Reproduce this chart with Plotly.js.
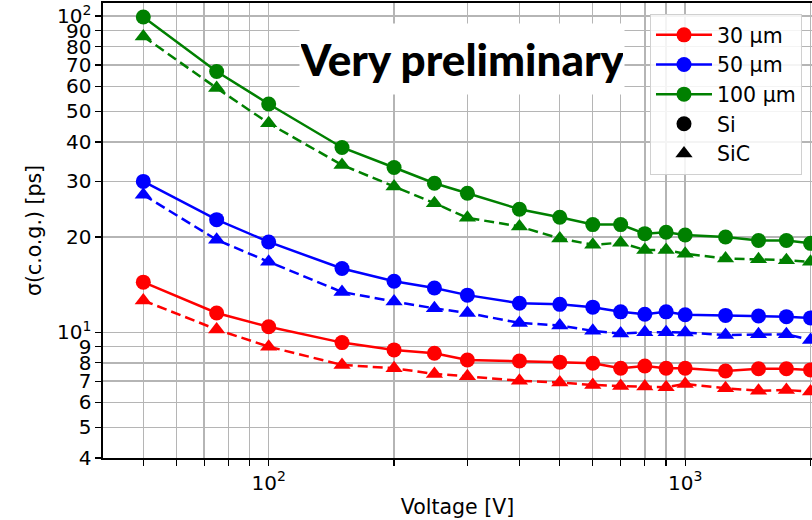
<!DOCTYPE html>
<html>
<head>
<meta charset="utf-8">
<script src="https://cdn.plot.ly/plotly-3.0.1.min.js"></script>
<style>html,body{margin:0;padding:0;background:#fff;}#chart{width:812px;height:520px;}</style>
</head>
<body>
<div id="chart"></div>
<script>
const voltage = [50, 75, 100, 150, 200, 250, 300, 400, 500, 600, 700, 800, 900, 1000, 1250, 1500, 1750, 2000];

const si30  = [14.4, 11.5, 10.4, 9.27, 8.79, 8.58, 8.17, 8.11, 8.04, 7.98, 7.69, 7.82, 7.69, 7.69, 7.54, 7.66, 7.66, 7.6];
const sic30 = [12.6, 10.2, 9.0, 7.88, 7.69, 7.38, 7.25, 7.02, 6.93, 6.81, 6.76, 6.73, 6.70, 6.86, 6.65, 6.53, 6.56, 6.49];
const si50  = [30.0, 22.7, 19.3, 15.9, 14.5, 13.8, 13.1, 12.35, 12.25, 12.0, 11.6, 11.4, 11.6, 11.35, 11.3, 11.25, 11.2, 11.1];
const sic50 = [27.2, 19.6, 16.7, 13.4, 12.5, 11.9, 11.5, 10.7, 10.5, 10.1, 9.9, 10.0, 10.0, 9.97, 9.8, 9.85, 9.85, 9.45];
const si100  = [99.3, 66.8, 52.7, 38.4, 33.2, 29.6, 27.5, 24.5, 23.1, 21.9, 21.9, 20.5, 20.7, 20.3, 20.0, 19.5, 19.5, 19.1];
const sic100 = [86.2, 59.2, 45.8, 33.8, 28.9, 25.6, 23.0, 21.6, 19.8, 18.9, 19.2, 18.2, 18.2, 17.7, 17.1, 17.0, 16.9, 16.7];

const thicknessLabels = ["30 µm", "50 µm", "100 µm"];
const materialLabels = ["Si", "SiC"];
const colors = ["#ff0000", "#0000ff", "#008000"];

const yTickVals = [4, 5, 6, 7, 8, 9, 10, 20, 30, 40, 50, 60, 70, 80, 90, 100];
const yTickText = ["4", "5", "6", "7", "8", "9", "10<sup>1</sup>", "20", "30", "40", "50", "60", "70", "80", "90", "10<sup>2</sup>"];
const xTickVals = [50, 60, 70, 80, 90, 100, 200, 300, 400, 500, 600, 700, 800, 900, 1000, 2000];
const xTickText = ["", "", "", "", "", "10<sup>2</sup>", "", "", "", "", "", "", "", "", "10<sup>3</sup>", ""];

const siSeries = [si30, si50, si100];
const sicSeries = [sic30, sic50, sic100];

const traces = [];
for (let i = 0; i < 3; i++) {
  traces.push({
    x: voltage, y: sicSeries[i], type: "scatter", mode: "lines+markers",
    line: {color: colors[i], width: 2.5, dash: "10px,5px"},
    marker: {color: colors[i], symbol: "triangle-up", size: 15},
    showlegend: false, hoverinfo: "skip"
  });
  traces.push({
    x: voltage, y: siSeries[i], type: "scatter", mode: "lines+markers",
    line: {color: colors[i], width: 2.5},
    marker: {color: colors[i], symbol: "circle", size: 15},
    showlegend: false, hoverinfo: "skip"
  });
}
// legend entries
for (let i = 0; i < 3; i++) {
  traces.push({
    x: [null], y: [null], type: "scatter", mode: "lines+markers",
    name: thicknessLabels[i], legendgroup: "g" + i,
    line: {color: colors[i], width: 2.5},
    marker: {color: colors[i], symbol: "circle", size: 15}
  });
}
traces.push({x: [null], y: [null], type: "scatter", mode: "markers", name: materialLabels[0], legendgroup: "g3",
  marker: {color: "#000", symbol: "circle", size: 15}});
traces.push({x: [null], y: [null], type: "scatter", mode: "markers", name: materialLabels[1], legendgroup: "g4",
  marker: {color: "#000", symbol: "triangle-up", size: 15}});

const font = {family: "DejaVu Sans", size: 20, color: "#000"};
const titleFont = {family: "DejaVu Sans", size: 20.5, color: "#000"};

const layout = {
  width: 812, height: 520,
  margin: {l: 103, r: 0, t: 3, b: 62},
  paper_bgcolor: "#fff", plot_bgcolor: "#fff",
  font: font,
  xaxis: {
    type: "log", range: [1.6022, 3.3045],
    tickvals: xTickVals, ticktext: xTickText,
    ticks: "outside", ticklen: 6, tickwidth: 1.3, tickcolor: "#000",
    showline: true, linecolor: "#000", linewidth: 1.6, mirror: true,
    showgrid: true, gridcolor: "#b5b5b5", gridwidth: 1.4,
    zeroline: false, tickfont: font,
    title: {text: "Voltage [V]", font: titleFont, standoff: 6}
  },
  yaxis: {
    type: "log", range: [0.60206, 2.04139],
    tickvals: yTickVals, ticktext: yTickText,
    ticks: "outside", ticklen: 6, tickwidth: 1.3, tickcolor: "#000",
    showline: true, linecolor: "#000", linewidth: 1.6, mirror: false,
    showgrid: true, gridcolor: "#b5b5b5", gridwidth: 1.4,
    zeroline: false, tickfont: font,
    title: {text: "σ(c.o.g.) [ps]", font: titleFont, standoff: 10}
  },
  legend: {
    x: 0.7715, y: 0.9758, xanchor: "left", yanchor: "top",
    bgcolor: "rgba(255,255,255,0.85)", bordercolor: "#d0d0d0", borderwidth: 1,
    font: {family: "DejaVu Sans", size: 20.5, color: "#000"},
    tracegroupgap: 0, itemwidth: 56, traceorder: "grouped"
  },
  annotations: [{
    xref: "paper", yref: "paper", x: 0.5063, y: 0.877,
    xanchor: "center", yanchor: "middle",
    text: "Very preliminary", showarrow: false,
    font: {family: "Lato", size: 44, color: "#000", weight: 900},
    bgcolor: "#fff", width: 322, height: 68
  }]
};

Plotly.newPlot("chart", traces, layout, {displayModeBar: false, staticPlot: true});
</script>
</body>
</html>
